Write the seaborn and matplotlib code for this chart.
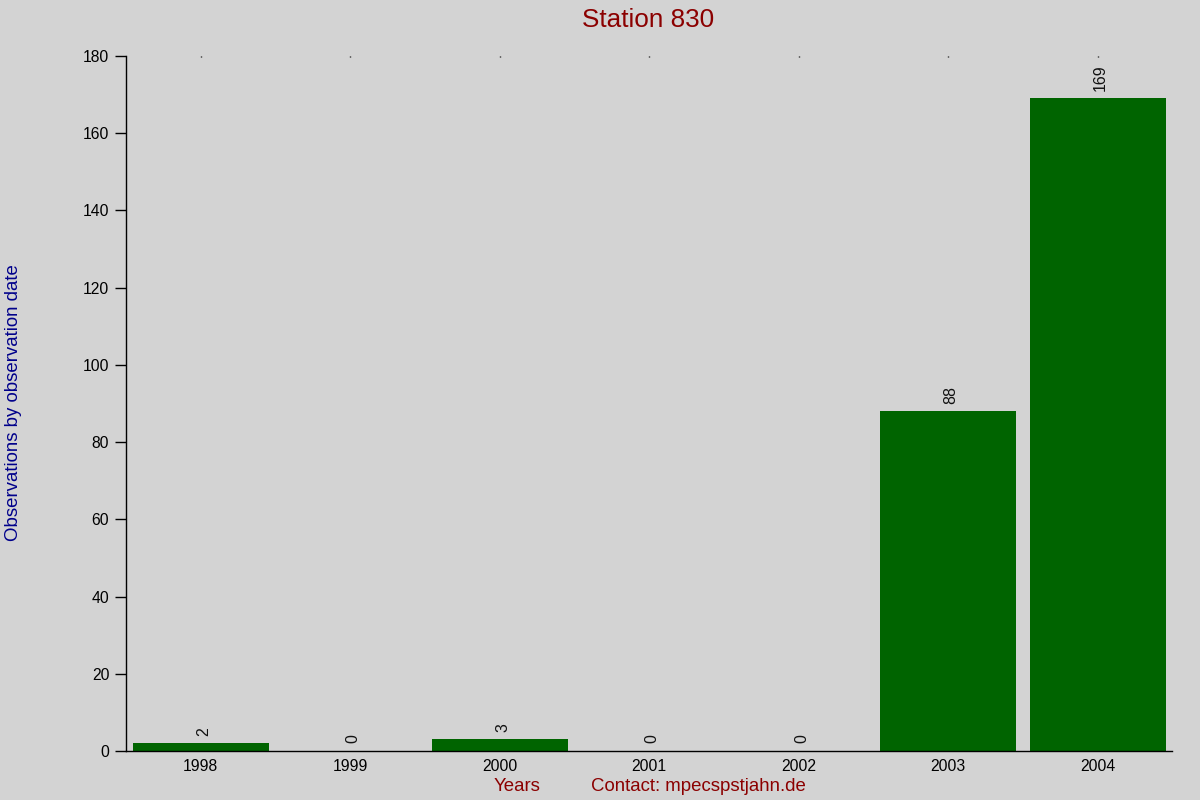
import matplotlib
matplotlib.use("Agg")
import matplotlib.pyplot as plt
import seaborn as sns
import pandas as pd

years = ["1998", "1999", "2000", "2001", "2002", "2003", "2004"]
counts = [2, 0, 3, 0, 0, 88, 169]

sns.set_theme(style="white")
plt.rcParams['font.family'] = ['Liberation Sans', 'DejaVu Sans']

bg = "#d3d3d3"
fig = plt.figure(figsize=(12, 8), dpi=100, facecolor=bg)
ax = fig.add_axes([0.105, 0.06125, 0.872, 0.86875])
ax.set_facecolor(bg)

df = pd.DataFrame({"year": years, "count": counts})
sns.barplot(data=df, x="year", y="count", color="#006400", saturation=1,
            width=0.91, linewidth=0, edgecolor="none", ax=ax)

for i, v in enumerate(counts):
    ax.text(i + 0.02, v + 2, str(v), rotation=90, ha="center", va="bottom",
            fontsize=11.5, color="#111111")

ax.set_xlim(-0.5, 6.5)
ax.set_ylim(0, 180)
ax.set_yticks(range(0, 181, 20))
ax.set_xlabel("")
ax.set_ylabel("")

for s in ["top", "right"]:
    ax.spines[s].set_visible(False)
for s in ["left", "bottom"]:
    ax.spines[s].set_color("black")
    ax.spines[s].set_linewidth(1.0)

ax.tick_params(axis="y", left=True, length=8, width=1, color="black",
               labelsize=11.3, labelcolor="black", pad=4)
ax.tick_params(axis="x", bottom=False, top=True, direction="in", length=1,
               width=1, color="black", labelsize=11.3, labelcolor="black", pad=6)

fig.text(0.54, 0.9745, "Station 830", ha="center", va="center",
         fontsize=18.8, color="#8b0000")
fig.text(0.011, 0.497, "Observations by observation date", rotation=90,
         ha="center", va="center", fontsize=13.4, color="#00008b")
fig.text(0.431, 0.017, "Years", ha="center", va="center",
         fontsize=13.4, color="#8b0000")
fig.text(0.582, 0.017, "Contact: mpecspstjahn.de", ha="center", va="center",
         fontsize=13.4, color="#8b0000")

fig.savefig("out.png", dpi=100, facecolor=bg)
